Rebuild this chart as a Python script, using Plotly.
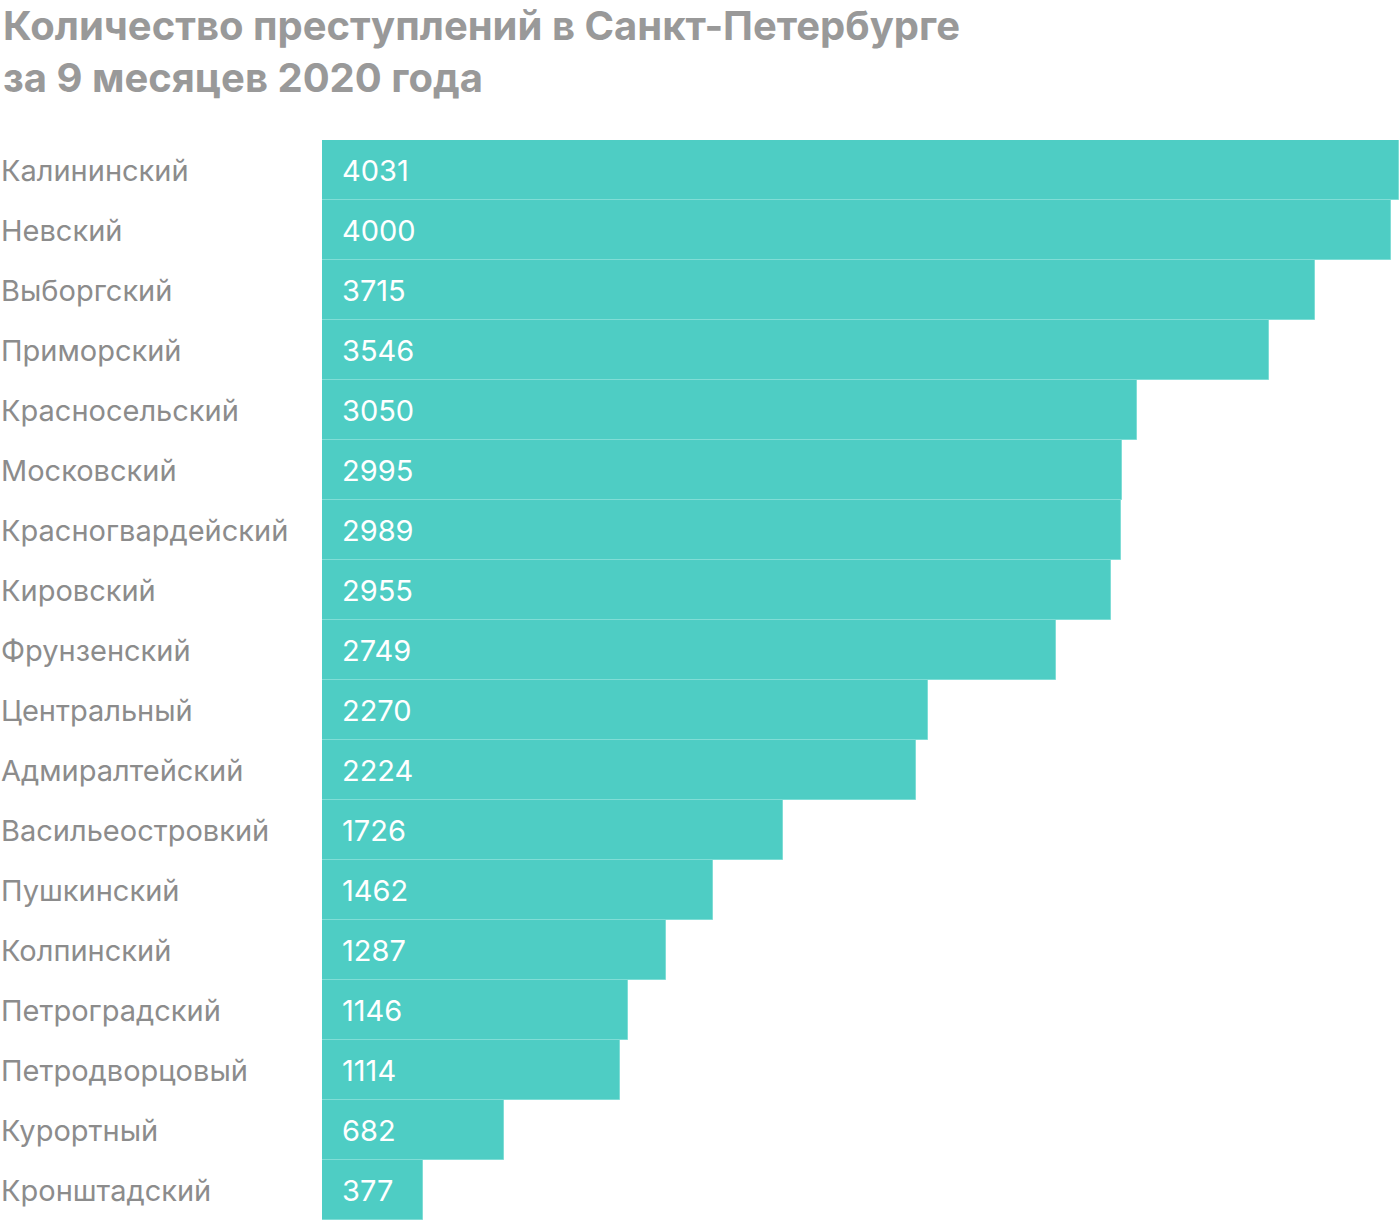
import plotly.graph_objects as go

districts = ["Калининский", "Невский", "Выборгский", "Приморский", "Красносельский",
             "Московский", "Красногвардейский", "Кировский", "Фрунзенский", "Центральный",
             "Адмиралтейский", "Васильеостровкий", "Пушкинский", "Колпинский",
             "Петроградский", "Петродворцовый", "Курортный", "Кронштадский"]
crimes = [4031, 4000, 3715, 3546, 3050, 2995, 2989, 2955, 2749, 2270,
          2224, 1726, 1462, 1287, 1146, 1114, 682, 377]

title = "Количество преступлений в Санкт-Петербурге<br>за 9 месяцев 2020 года"

W, H = 1400, 1220
ML, MT = 322, 140
plot_w = W - ML
plot_h = H - MT
FONT = "Inter"

fig = go.Figure(go.Bar(
    x=crimes, y=districts, orientation="h",
    marker=dict(color="#4ecdc4", line=dict(color="#80ddd6", width=1)),
    width=1.0,
    hoverinfo="x+y",
))

for d, v in zip(districts, crimes):
    # district name at the left page edge
    fig.add_annotation(x=-(ML + 1) / plot_w, xref="paper", y=d, yref="y",
                       text=d, showarrow=False, xanchor="left",
                       font=dict(family=FONT, size=29, color="#8c8c8c"))
    # value inside the bar
    fig.add_annotation(x=0, xref="x", y=d, yref="y", xshift=18,
                       text=str(v), showarrow=False, xanchor="left",
                       font=dict(family=FONT, size=29, color="white"))

fig.add_annotation(x=-(ML - 1) / plot_w, xref="paper", y=1 + (MT + 1) / plot_h, yref="paper",
                   text="<b>" + title + "</b>", showarrow=False,
                   xanchor="left", yanchor="top", align="left",
                   font=dict(family=FONT, size=40, color="#999999"))

fig.update_layout(
    width=W, height=H,
    margin=dict(l=ML, r=0, t=MT, b=0),
    plot_bgcolor="white", paper_bgcolor="white",
    showlegend=False,
    bargap=0,
    xaxis=dict(range=[0, 4035], visible=False),
    yaxis=dict(autorange="reversed", showticklabels=False, showgrid=False, zeroline=False),
)

fig.write_html("out.html", config={"displayModeBar": False},
               post_script="document.body.style.margin='0';")
